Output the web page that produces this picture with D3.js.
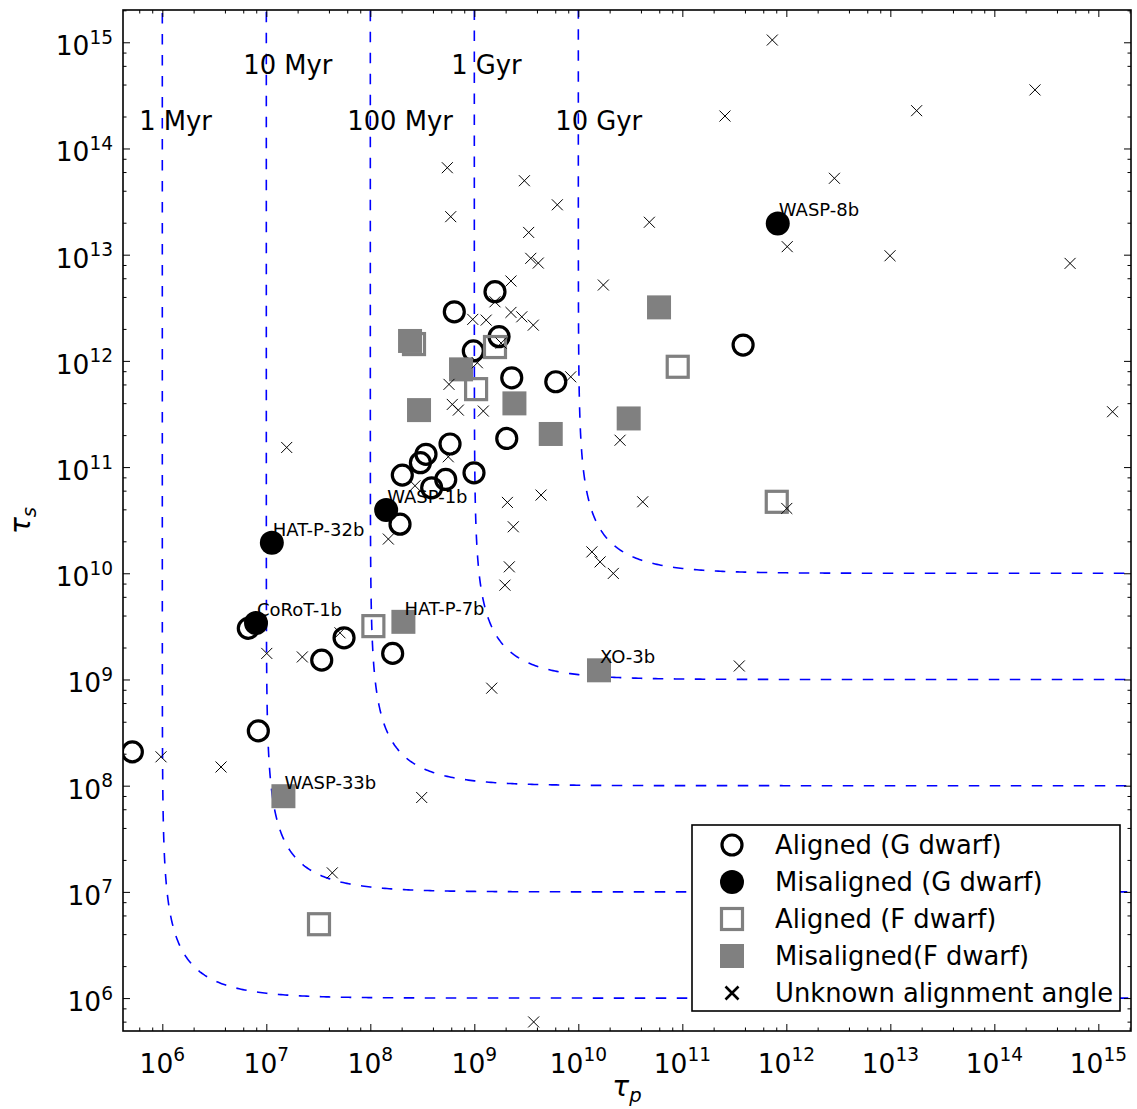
<!DOCTYPE html>
<html>
<head>
<meta charset="utf-8">
<script src="https://cdn.jsdelivr.net/npm/d3@7"></script>
<style>
  html, body { margin: 0; padding: 0; background: #fff; }
  svg { display: block; font-family: "DejaVu Sans", sans-serif; }
</style>
</head>
<body>
<svg id="chart" width="1137" height="1109"></svg>
<script>
// Tidal timescales (years): tau_p (planet) and tau_s (star)

// Aligned systems, G-dwarf hosts: [tau_p, tau_s]
const alignedG = [
  [5.15e5, 2.08e8], [6.71e6, 3.03e9], [8.38e6, 3.28e8], [3.41e7, 1.52e9],
  [5.59e7, 2.47e9], [1.64e8, 1.76e9], [1.93e8, 2.90e10], [2.03e8, 8.40e10],
  [3.03e8, 1.10e11], [3.43e8, 1.32e11], [3.89e8, 6.38e10], [5.31e8, 7.65e10],
  [5.84e8, 1.65e11], [9.93e8, 8.83e10], [2.05e9, 1.86e11], [2.29e9, 6.93e11],
  [6.07e9, 6.36e11], [9.78e8, 1.24e12], [1.73e9, 1.69e12], [6.42e8, 2.90e12],
  [1.58e9, 4.48e12], [3.84e11, 1.41e12]
];

// Misaligned systems, G-dwarf hosts
const misalignedG = [
  { name: "WASP-8b",   tp: 8.27e11, ts: 1.97e13 },
  { name: "HAT-P-32b", tp: 1.13e7,  ts: 1.94e10 },
  { name: "CoRoT-1b",  tp: 7.96e6,  ts: 3.41e9 },
  { name: "WASP-1b",   tp: 1.42e8,  ts: 3.94e10 }
];

// Aligned systems, F-dwarf hosts
const alignedF = [
  [2.63e8, 1.44e12], [1.58e9, 1.35e12], [1.04e9, 5.42e11], [1.07e8, 3.18e9],
  [9.03e10, 8.80e11], [8.09e11, 4.71e10], [3.21e7, 4.96e6]
];

// Misaligned systems, F-dwarf hosts (unnamed)
const misalignedF = [
  [2.41e8, 1.54e12], [7.45e8, 8.32e11], [2.94e8, 3.44e11], [2.43e9, 3.98e11],
  [5.43e9, 2.05e11], [3.05e10, 2.87e11], [5.97e10, 3.19e12]
];

// Misaligned systems, F-dwarf hosts (labelled)
const misalignedFNamed = [
  { name: "HAT-P-7b",  tp: 2.08e8,  ts: 3.49e9 },
  { name: "XO-3b",     tp: 1.58e10, ts: 1.22e9 },
  { name: "WASP-33b",  tp: 1.46e7,  ts: 7.96e7 }
];

// Systems with unknown spin-orbit angle
const unknown = [
  [5.50e8, 6.59e13], [3.03e9, 4.97e13], [5.93e8, 2.28e13], [6.28e9, 2.95e13],
  [3.33e9, 1.62e13], [3.49e9, 9.24e12], [4.12e9, 8.34e12], [2.25e9, 5.65e12],
  [1.74e10, 5.18e12], [1.58e9, 3.60e12], [9.66e8, 2.46e12], [1.30e9, 2.42e12],
  [2.25e9, 2.86e12], [2.86e9, 2.60e12], [3.69e9, 2.17e12], [1.81e9, 1.47e12],
  [7.33e11, 1.05e15], [2.57e11, 2.02e14], [2.90e12, 5.24e13], [4.82e10, 2.02e13],
  [1.02e12, 1.19e13], [9.93e12, 9.77e12], [1.79e13, 2.27e14], [2.46e14, 3.56e14],
  [5.35e14, 8.28e12], [1.37e15, 3.32e11], [1.07e9, 9.60e11], [5.71e8, 6.01e11],
  [8.45e9, 7.08e11], [6.14e8, 3.89e11], [7.02e8, 3.44e11], [1.22e9, 3.37e11],
  [5.62e8, 1.25e11], [2.69e8, 6.67e10], [2.08e9, 4.65e10], [4.38e9, 5.45e10],
  [2.37e9, 2.74e10], [1.49e8, 2.10e10], [2.52e10, 1.79e11], [1.35e10, 1.59e10],
  [1.62e10, 1.28e10], [2.17e10, 9.97e9], [2.17e9, 1.15e10], [1.97e9, 7.73e9],
  [1.47e9, 8.28e8], [4.16e10, 4.71e10], [1.01e12, 4.08e10], [3.53e11, 1.34e9],
  [1.57e7, 1.53e11], [1.01e7, 1.76e9], [2.22e7, 1.63e9], [5.11e7, 2.75e9],
  [9.72e5, 1.87e8], [3.67e6, 1.50e8], [4.31e7, 1.51e7], [3.12e8, 7.74e7],
  [3.72e9, 5.96e5]
];

// Isochrones: system age and label
const ages      = [1e6, 1e7, 1e8, 1e9, 1e10];
const ageLabels = ["1 Myr", "10 Myr", "100 Myr", "1 Gyr", "10 Gyr"];
const ageLabelY = [1.5e14, 5e14, 1.5e14, 5e14, 1.5e14];

const tickExps = [6, 7, 8, 9, 10, 11, 12, 13, 14, 15];

const legendItems = [
  { key: "openCircle",   label: "Aligned (G dwarf)" },
  { key: "filledCircle", label: "Misaligned (G dwarf)" },
  { key: "openSquare",   label: "Aligned (F dwarf)" },
  { key: "filledSquare", label: "Misaligned(F dwarf)" },
  { key: "cross",        label: "Unknown alignment angle" }
];

// ---- layout ----
const box = { left: 123, top: 10, right: 1131, bottom: 1031 };
const FS = 25.8;     // legend / annotation text
const TFS = 26.5;    // tick label text

const svg = d3.select("#chart");

const x = d3.scaleLog()
  .domain([Math.pow(10, 5.622), Math.pow(10, 15.314)])
  .range([box.left, box.right]);
const y = d3.scaleLog()
  .domain([Math.pow(10, 5.690), Math.pow(10, 15.304)])
  .range([box.bottom, box.top]);

const majors = tickExps.map(e => Math.pow(10, e));
const minors = [];
for (let e = 5; e <= 15; e++) {
  [2, 4, 6, 8].forEach(m => minors.push(m * Math.pow(10, e)));
}
const xMinors = minors.filter(v => v > x.domain()[0] && v < x.domain()[1]);
const yMinors = minors.filter(v => v > y.domain()[0] && v < y.domain()[1]);

svg.append("defs").append("clipPath").attr("id", "plotClip")
  .append("rect")
  .attr("x", box.left).attr("y", box.top)
  .attr("width", box.right - box.left).attr("height", box.bottom - box.top);

// ---- isochrones: 1/tau = 1/tau_p + 1/tau_s ----
const curveLayer = svg.append("g").attr("clip-path", "url(#plotClip)");
const line = d3.line().x(d => x(d[0])).y(d => y(d[1]));
ages.forEach(T => {
  const pts = [];
  for (let u = -25; u <= 25.0001; u += 0.05) {
    pts.push([T * (1 + Math.exp(u)), T * (1 + Math.exp(-u))]);
  }
  curveLayer.append("path")
    .attr("d", line(pts))
    .attr("fill", "none")
    .attr("stroke", "#0000ff")
    .attr("stroke-width", 1.6)
    .attr("stroke-dasharray", "10.5,10.5");
});

// ---- isochrone labels ----
svg.append("g").selectAll("text")
  .data(ages)
  .join("text")
  .attr("x", d => x(d * 0.6))
  .attr("y", (d, i) => y(ageLabelY[i]))
  .attr("font-size", FS)
  .attr("fill", "#000")
  .text((d, i) => ageLabels[i]);

// ---- marker shapes ----
const markers = {
  openCircle: (g, cx, cy) => g.append("circle")
    .attr("cx", cx).attr("cy", cy).attr("r", 10)
    .attr("fill", "none").attr("stroke", "#000").attr("stroke-width", 3.2),
  filledCircle: (g, cx, cy) => g.append("circle")
    .attr("cx", cx).attr("cy", cy).attr("r", 12)
    .attr("fill", "#000"),
  openSquare: (g, cx, cy) => g.append("rect")
    .attr("x", cx - 10.5).attr("y", cy - 10.5).attr("width", 21).attr("height", 21)
    .attr("fill", "none").attr("stroke", "#808080").attr("stroke-width", 3.2),
  filledSquare: (g, cx, cy) => g.append("rect")
    .attr("x", cx - 12).attr("y", cy - 12).attr("width", 24).attr("height", 24)
    .attr("fill", "#808080"),
  cross: (g, cx, cy, s = 5.5, w = 1) => g.append("path")
    .attr("d", `M${cx - s},${cy - s}L${cx + s},${cy + s}M${cx - s},${cy + s}L${cx + s},${cy - s}`)
    .attr("stroke", "#000").attr("stroke-width", w).attr("fill", "none")
};

const pointLayer = svg.append("g").attr("clip-path", "url(#plotClip)");
alignedG.forEach(d => markers.openCircle(pointLayer, x(d[0]), y(d[1])));
misalignedG.forEach(d => markers.filledCircle(pointLayer, x(d.tp), y(d.ts)));
misalignedF.forEach(d => markers.filledSquare(pointLayer, x(d[0]), y(d[1])));
misalignedFNamed.forEach(d => markers.filledSquare(pointLayer, x(d.tp), y(d.ts)));
alignedF.forEach(d => markers.openSquare(pointLayer, x(d[0]), y(d[1])));
unknown.forEach(d => markers.cross(pointLayer, x(d[0]), y(d[1])));

// ---- planet name labels ----
const named = misalignedG.concat(misalignedFNamed);
svg.append("g").selectAll("text")
  .data(named)
  .join("text")
  .attr("x", d => x(d.tp) + 1)
  .attr("y", d => y(d.ts) - 7)
  .attr("font-size", 18)
  .attr("fill", "#000")
  .text(d => d.name);

// ---- axes: inward ticks on all four sides ----
function styleAxis(g) {
  g.select(".domain").remove();
  g.selectAll(".tick line").attr("stroke", "#000").attr("stroke-width", 1);
}
function addAxis(axisFn, scale, transform, values, size) {
  svg.append("g")
    .attr("transform", transform)
    .call(axisFn(scale).tickValues(values).tickSize(size).tickFormat(() => ""))
    .call(styleAxis);
}
addAxis(d3.axisBottom, x, `translate(0,${box.bottom})`, xMinors, -3.5);
addAxis(d3.axisBottom, x, `translate(0,${box.bottom})`, majors, -7);
addAxis(d3.axisTop, x, `translate(0,${box.top})`, xMinors, -3.5);
addAxis(d3.axisTop, x, `translate(0,${box.top})`, majors, -7);
addAxis(d3.axisLeft, y, `translate(${box.left},0)`, yMinors, -3.5);
addAxis(d3.axisLeft, y, `translate(${box.left},0)`, majors, -7);
addAxis(d3.axisRight, y, `translate(${box.right},0)`, yMinors, -3.5);
addAxis(d3.axisRight, y, `translate(${box.right},0)`, majors, -7);

// frame
svg.append("rect")
  .attr("x", box.left).attr("y", box.top)
  .attr("width", box.right - box.left).attr("height", box.bottom - box.top)
  .attr("fill", "none").attr("stroke", "#000").attr("stroke-width", 1.6);

// power-of-ten tick labels
function powLabel(sel, exp) {
  sel.append("tspan").text("10");
  sel.append("tspan").attr("dy", "-0.62em").attr("font-size", "0.7em").text(exp);
}
const xLab = svg.append("g");
tickExps.forEach(e => {
  const t = xLab.append("text")
    .attr("x", x(Math.pow(10, e)))
    .attr("y", box.bottom + 42)
    .attr("text-anchor", "middle")
    .attr("font-size", TFS);
  powLabel(t, e);
});
const yLab = svg.append("g");
tickExps.forEach(e => {
  const t = yLab.append("text")
    .attr("x", box.left - 10)
    .attr("y", y(Math.pow(10, e)) + 13)
    .attr("text-anchor", "end")
    .attr("font-size", TFS);
  powLabel(t, e);
});

// axis titles
const xt = svg.append("text")
  .attr("x", (box.left + box.right) / 2)
  .attr("y", 1096)
  .attr("text-anchor", "middle")
  .attr("font-size", 28)
  .attr("font-style", "italic");
xt.append("tspan").text("τ");
xt.append("tspan").attr("dy", "0.3em").attr("font-size", "0.7em").text("p");

const yt = svg.append("text")
  .attr("transform", `translate(30,${(box.top + box.bottom) / 2}) rotate(-90)`)
  .attr("text-anchor", "middle")
  .attr("font-size", 28)
  .attr("font-style", "italic");
yt.append("tspan").text("τ");
yt.append("tspan").attr("dy", "0.3em").attr("font-size", "0.7em").text("s");

// ---- legend ----
const lg = svg.append("g");
lg.append("rect")
  .attr("x", 692).attr("y", 825).attr("width", 428).attr("height", 186)
  .attr("fill", "#fff").attr("stroke", "#000").attr("stroke-width", 1.6);
legendItems.forEach((it, i) => {
  const cy = 845 + i * 37;
  if (it.key === "cross") markers.cross(lg, 732, cy, 6.5, 2.6);
  else markers[it.key](lg, 732, cy);
  lg.append("text")
    .attr("x", 775).attr("y", cy + 9)
    .attr("font-size", FS)
    .text(it.label);
});
</script>
</body>
</html>
